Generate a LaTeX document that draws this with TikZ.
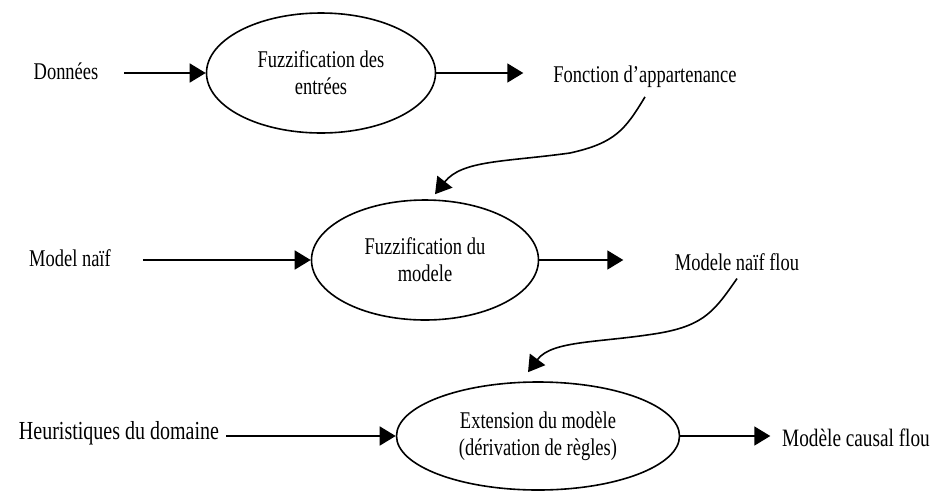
\documentclass[tikz,border=0pt]{standalone}
\usepackage{fontspec}
\setmainfont{Liberation Serif}
\newfontfamily\narrowserif[FakeStretch=0.77]{Liberation Serif}
\usetikzlibrary{shapes.geometric,arrows.meta}

\tikzset{
  label text/.style={font=\narrowserif\fontsize{24}{27}\selectfont, inner sep=0pt, outer sep=0pt},
  process/.style={ellipse, draw, line width=1.6pt, inner sep=0pt,
    align=center, font=\narrowserif\fontsize{24}{27}\selectfont},
  flow/.style={line width=1.6pt, -{Triangle[length=16pt,width=19pt]}},
}

\begin{document}
\begin{tikzpicture}[x=1pt,y=-1pt]
  \useasboundingbox (0,0) rectangle (934,491);

  % processes
  \node[process, minimum width=229pt, minimum height=120pt] (e1) at (321,73)
    {Fuzzification des\\entrées};
  \node[process, minimum width=227pt, minimum height=120pt] (e2) at (425,260)
    {Fuzzification du\\modele};
  \node[process, minimum width=283pt, minimum height=108pt] (e3) at (538,436)
    {Extension du modèle\\(dérivation de règles)};

  % inputs and outputs
  \node[label text] (donnees) at (66,71) {Données};
  \node[label text] (fonction) at (645,77) {Fonction d’appartenance};
  \node[label text] (naif) at (70,258) {Model naïf};
  \node[label text] (naifflou) at (737,262) {Modele naïf flou};
  \node[label text, font=\narrowserif\fontsize{26}{29}\selectfont] (heur) at (119,433) {Heuristiques du domaine};
  \node[label text, font=\narrowserif\fontsize{25}{28}\selectfont] (causal) at (856,438) {Modèle causal flou};

  % arrow ends near the process tops
  \coordinate (t1) at ([shift={(10,-5)}]e2.north);
  \coordinate (t2) at ([shift={(-10,-9)}]e3.north);

  % straight flows
  \draw[flow, shorten <=26pt] (donnees.east |- e1.west) -- (e1.west);
  \draw[flow] (e1.east) -- ([xshift=87pt]e1.east);
  \draw[flow, shorten <=32pt] (naif.east |- e2.west) -- (e2.west);
  \draw[flow] (e2.east) -- ([xshift=84pt]e2.east);
  \draw[flow, shorten <=7pt] (heur.east |- e3.west) -- (e3.west);
  \draw[flow] (e3.east) -- ([xshift=90pt]e3.east);

  % curved feedback flows
  \draw[flow] ([yshift=-9pt]fonction.south) .. controls (625,130) and (615,143) .. (570,153)
    .. controls (505,162) and (462,160) .. (t1);
  \draw[flow] ([yshift=-8pt]naifflou.south) .. controls (715,310) and (705,325) .. (660,333)
    .. controls (600,343) and (552,340) .. (t2);
\end{tikzpicture}
\end{document}
